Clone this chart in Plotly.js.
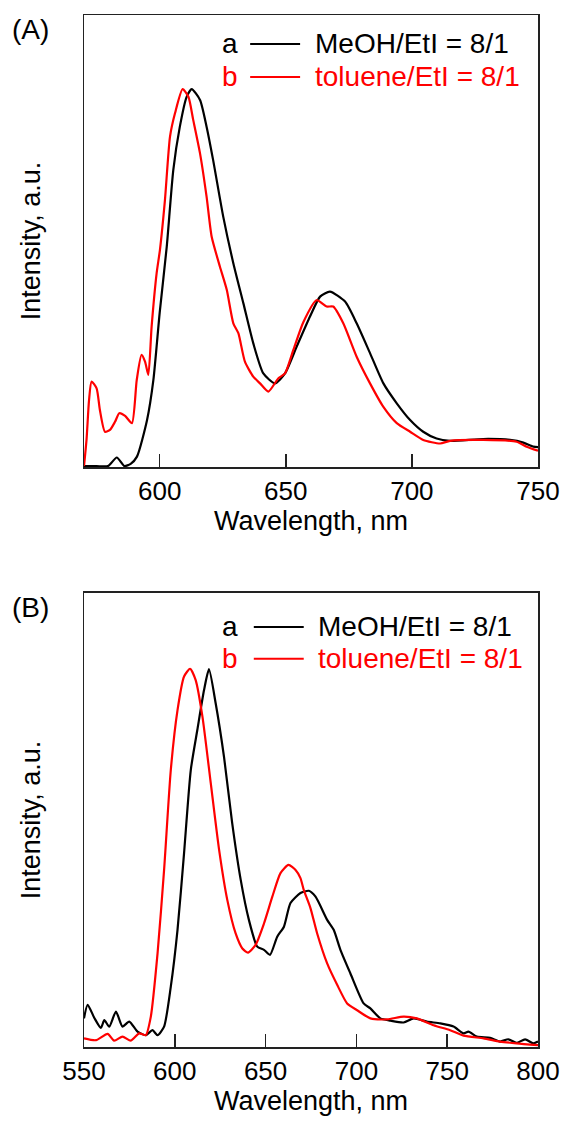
<!DOCTYPE html>
<html>
<head>
<meta charset="utf-8">
<script src="https://cdn.plot.ly/plotly-3.0.1.min.js"></script>
<style>html,body{margin:0;padding:0;background:#fff}#chart{width:566px;height:1128px}</style>
</head>
<body>
<div id="chart"></div>
<script>
// ---------- Panel A data ----------
const wlA_a = [570,575,579.5,583,586,588.5,591,595,597.5,600,602.8,605.4,608,610.7,612.7,616,618.6,621.2,625.2,629.2,633.2,637.1,641.1,645.7,649.7,654.3,659.6,663.6,667.5,673.5,678.1,683.4,688.7,694,699.3,704.5,709.8,715.1,728.3,738.9,744.2,748.2,750];
const intA_a = [0.2,0.2,0.2,2.1,0.2,0.7,2.3,10.4,19.2,34.1,48.7,65.7,75.3,81.9,83.6,81.2,75.3,67.9,55.4,45.1,36.2,27.4,20.7,18.5,20.7,26.6,33.3,37.7,38.8,36.6,31.8,25.2,18.5,14.1,10.4,7.8,6.3,5.8,6.2,6.0,5.4,4.5,4.4];

const wlA_b = [570,571,572,573,575,576.3,578.3,580.3,582.3,584,586.3,589,590.9,592.8,594.2,595.5,596.8,598.8,600.1,602.1,604.1,606.1,609.1,611.4,613.3,616,618.6,620.6,623.9,626.6,629.2,631.2,633.8,637.1,639.8,643.1,647,649.7,653,657,662.2,666.2,668.8,672.8,678.1,683.4,688.7,694,699.3,704.5,711.2,715.1,728.3,741.5,745.5,750];
const intA_b = [0.2,6.0,14.8,18.9,17.4,12.6,7.8,8.2,10.0,11.9,11.3,9.7,19.2,24.8,23.3,20.4,31.0,42.9,48.0,59.1,73.1,78.3,83.6,81.9,76.8,69.4,59.8,51.0,44.3,39.2,31.8,29.6,23.3,20.0,18.5,16.7,19.6,20.7,25.9,32.1,36.9,35.5,35.5,31.8,24.4,18.5,13.3,9.7,7.8,6.0,5.2,5.8,6.0,5.6,4.5,3.6];

// ---------- Panel B data ----------
const wlB_a = [550,552,555.7,559.3,561.2,563.9,567.6,571.2,574.9,579.5,584,587.7,590.5,594.1,597.8,601.5,605.1,608.8,612.4,616.1,618.8,622.5,627.1,631.6,636.3,640.8,645.4,649.1,652.4,656.4,660.1,663.7,669.2,673.8,677.5,683.9,687.5,691.2,696.7,704,707.7,713.2,718.7,726,731.5,738.8,746.2,753.5,759,761.7,766.3,773.6,779.1,783.7,788.2,792.9,797.4,800];
const intB_a = [6.3,9.3,6.4,4.2,5.9,4.5,7.8,4.5,5.6,3.4,2.6,3.7,2.6,4.5,13.3,25.8,42.7,61.0,69.8,78.6,83.2,75.7,63.9,49.3,36.8,28.0,22.1,21.4,20.3,24.3,26.5,31.7,33.9,34.4,33.1,28.0,25.8,21.4,16.2,9.6,8.5,6.3,5.8,5.4,6.3,5.6,5.2,4.5,3.0,3.4,2.3,2.0,1.2,1.7,0.9,1.7,0.8,1.2];

const wlB_b = [550,556.6,563,566.6,571.2,575.8,580.4,584,586.8,590.5,594.1,597.8,601.5,605.1,608.4,611.5,615.2,619.8,624.4,628.9,633.5,637.2,640.3,644.5,649.1,653.7,658.2,662.6,666.5,669.2,671,674.7,678.4,683.9,689.4,694.9,700.4,707.7,716.9,726,733.3,742.5,751.6,759,770,779.1,788.2,800];
const intB_b = [1.9,1.5,2.9,1.4,2.3,1.4,3.0,2.6,6.7,20.6,39.0,61.0,74.2,81.6,83.3,80.8,72.8,58.1,43.4,32.4,25.0,21.7,20.8,22.5,27.2,33.1,38.3,40.1,39.0,37.2,34.6,30.6,25.0,18.4,13.7,9.6,8.1,6.3,6.1,6.7,6.3,4.8,3.7,2.5,1.9,1.2,0.8,0.4];

// ---------- labels ----------
const seriesLetters = ['a', 'b'];
const seriesNames = ['MeOH/EtI = 8/1', 'toluene/EtI = 8/1'];
const seriesColors = ['#000000', '#ff0000'];
const panelLabels = ['(A)', '(B)'];
const ticksA = [600, 650, 700, 750];
const ticksB = [550, 600, 650, 700, 750, 800];
const xTitle = 'Wavelength, nm';
const yTitle = 'Intensity, a.u.';

const FONT = 'Liberation Sans, Arial, sans-serif';

function trace(x, y, color, xa, ya) {
  return {x: x, y: y, xaxis: xa, yaxis: ya, type: 'scatter', mode: 'lines',
    line: {color: color, width: 2.2, shape: 'spline', smoothing: 0.6},
    showlegend: false, hoverinfo: 'skip'};
}

const data = [
  trace(wlA_a, intA_a, seriesColors[0], 'x', 'y'),
  trace(wlA_b, intA_b, seriesColors[1], 'x', 'y'),
  trace(wlB_a, intB_a, seriesColors[0], 'x2', 'y2'),
  trace(wlB_b, intB_b, seriesColors[1], 'x2', 'y2')
];

function xaxis(range, ticks, anchor) {
  return {range: range, anchor: anchor, domain: [0, 1], tickmode: 'array', tickvals: ticks,
    ticktext: ticks.map(String), ticks: 'inside', ticklen: 13, tickwidth: 1.5, tickcolor: '#222',
    showline: true, mirror: true, linecolor: '#222', linewidth: 1.5, showgrid: false, zeroline: false,
    tickfont: {family: FONT, size: 26, color: '#000'},
    title: {text: xTitle, font: {family: FONT, size: 27, color: '#000'}, standoff: 4}};
}
function yaxis(domain, anchor) {
  return {range: [0, 100], domain: domain, anchor: anchor, showticklabels: false, ticks: '',
    showline: true, mirror: true, linecolor: '#222', linewidth: 1.5, showgrid: false, zeroline: false,
    title: {text: yTitle, font: {family: FONT, size: 27, color: '#000'}, standoff: 34}};
}

const annotations = [];
const shapes = [];
function legend(xref, yref, ys, xa, xl0, xl1, xt) {
  for (let i = 0; i < 2; i++) {
    annotations.push({xref: xref, yref: yref, x: xa, y: ys[i], xanchor: 'left', yanchor: 'middle',
      text: seriesLetters[i], showarrow: false, font: {family: FONT, size: 28, color: seriesColors[i]}});
    annotations.push({xref: xref, yref: yref, x: xt, y: ys[i], xanchor: 'left', yanchor: 'middle',
      text: seriesNames[i], showarrow: false, font: {family: FONT, size: 28, color: seriesColors[i]}});
    shapes.push({type: 'line', xref: xref, yref: yref, x0: xl0, x1: xl1, y0: ys[i], y1: ys[i],
      line: {color: seriesColors[i], width: 2}});
  }
}
legend('x domain', 'y domain', [0.936, 0.863], 0.30, 0.366, 0.476, 0.505);
legend('x2 domain', 'y2 domain', [0.925, 0.855], 0.30, 0.374, 0.484, 0.512);

annotations.push({xref: 'paper', yref: 'paper', x: -0.162, y: 0.986, xanchor: 'left', yanchor: 'middle',
  text: panelLabels[0], showarrow: false, font: {family: FONT, size: 28, color: '#000'}});
annotations.push({xref: 'paper', yref: 'paper', x: -0.162, y: 0.426, xanchor: 'left', yanchor: 'middle',
  text: panelLabels[1], showarrow: false, font: {family: FONT, size: 28, color: '#000'}});

const layout = {
  width: 566, height: 1128,
  margin: {l: 84, r: 28, t: 15, b: 81},
  paper_bgcolor: '#fff', plot_bgcolor: '#fff',
  font: {family: FONT, color: '#000'},
  xaxis: xaxis([570, 750], ticksA, 'y'),
  yaxis: yaxis([0.562, 1], 'x'),
  xaxis2: xaxis([550, 800], ticksB, 'y2'),
  yaxis2: yaxis([0, 0.44], 'x2'),
  annotations: annotations,
  shapes: shapes,
  showlegend: false
};

Plotly.newPlot('chart', data, layout, {staticPlot: true, displayModeBar: false});
</script>
</body>
</html>
